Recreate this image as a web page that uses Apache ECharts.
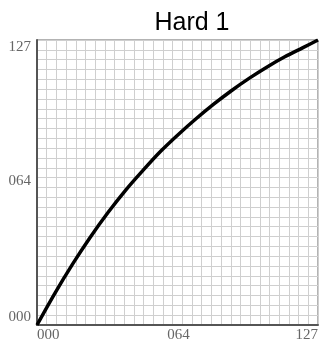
<!DOCTYPE html>
<html>
<head>
<meta charset="utf-8">
<script src="https://cdn.jsdelivr.net/npm/echarts@6/dist/echarts.min.js"></script>
<style>
  html, body { margin: 0; padding: 0; background: #fff; }
  #chart { width: 321px; height: 344px; }
</style>
</head>
<body>
<div id="chart"></div>
<script>
// Response curve: input level (x) to output level (y), both 0..127
const inputLevels  = [0, 8, 16, 24, 32, 40, 48, 56, 64, 72, 80, 88, 96, 104, 112, 120, 127];
const outputLevels = [0, 14, 27, 39, 50, 60, 69, 77.5, 85, 92, 98.5, 104.5, 110, 115, 119.5, 123.5, 127];
const tickLabels = ['000', '064', '127'];
const tickValues = [0, 64, 127];
const gridDivisions = 29;

const chart = echarts.init(document.getElementById('chart'), null, { renderer: 'canvas' });

const labelFont = { fontFamily: 'Liberation Serif', fontSize: 15, color: '#666' };
const fmt = v => tickLabels[tickValues.indexOf(Math.round(v))] || '';

function yLabelAxis(value, vAlign, show) {
  return {
    type: 'value', min: 0, max: 127, gridIndex: 0, position: 'left', offset: 0,
    axisLine: { show: show, onZero: false, lineStyle: { color: '#555', width: 2 } },
    axisTick: { show: false },
    splitLine: { show: false },
    axisLabel: Object.assign({}, labelFont, {
      customValues: [value], margin: 6, verticalAlign: vAlign, formatter: fmt
    })
  };
}

chart.setOption({
  animation: false,
  title: {
    text: 'Hard 1', left: 187, top: 6, textAlign: 'center',
    textStyle: { fontFamily: 'Liberation Sans', fontSize: 25, fontWeight: 'normal', color: '#000' }
  },
  grid: {
    left: 37, right: 3, top: 40, bottom: 19,
    containLabel: false, outerBoundsMode: 'none',
    show: true, borderColor: '#666', borderWidth: 1
  },
  xAxis: [
    {
      type: 'value', min: 0, max: 127, position: 'bottom',
      axisLine: { show: true, onZero: false, lineStyle: { color: '#555', width: 2 } },
      axisTick: { show: false },
      splitLine: { show: false },
      axisLabel: Object.assign({}, labelFont, {
        customValues: tickValues, margin: 3, formatter: fmt,
        alignMinLabel: 'left', alignMaxLabel: 'right'
      })
    },
    {
      type: 'value', min: 0, max: gridDivisions, interval: 1, position: 'top',
      axisLine: { show: false }, axisTick: { show: false }, axisLabel: { show: false },
      splitLine: { show: true, lineStyle: { color: '#cfcfcf', width: 1 } }
    }
  ],
  yAxis: [
    yLabelAxis(0, 'bottom', true),
    yLabelAxis(64, 'middle', false),
    yLabelAxis(127, 'top', false),
    {
      type: 'value', min: 0, max: gridDivisions, interval: 1, position: 'right',
      axisLine: { show: false }, axisTick: { show: false }, axisLabel: { show: false },
      splitLine: { show: true, lineStyle: { color: '#cfcfcf', width: 1 } }
    }
  ],
  series: [{
    type: 'line',
    xAxisIndex: 0, yAxisIndex: 0,
    data: inputLevels.map((x, i) => [x, outputLevels[i]]),
    smooth: 0.3,
    symbol: 'none',
    lineStyle: { color: '#000', width: 3.5 },
    z: 5
  }]
});
</script>
</body>
</html>
